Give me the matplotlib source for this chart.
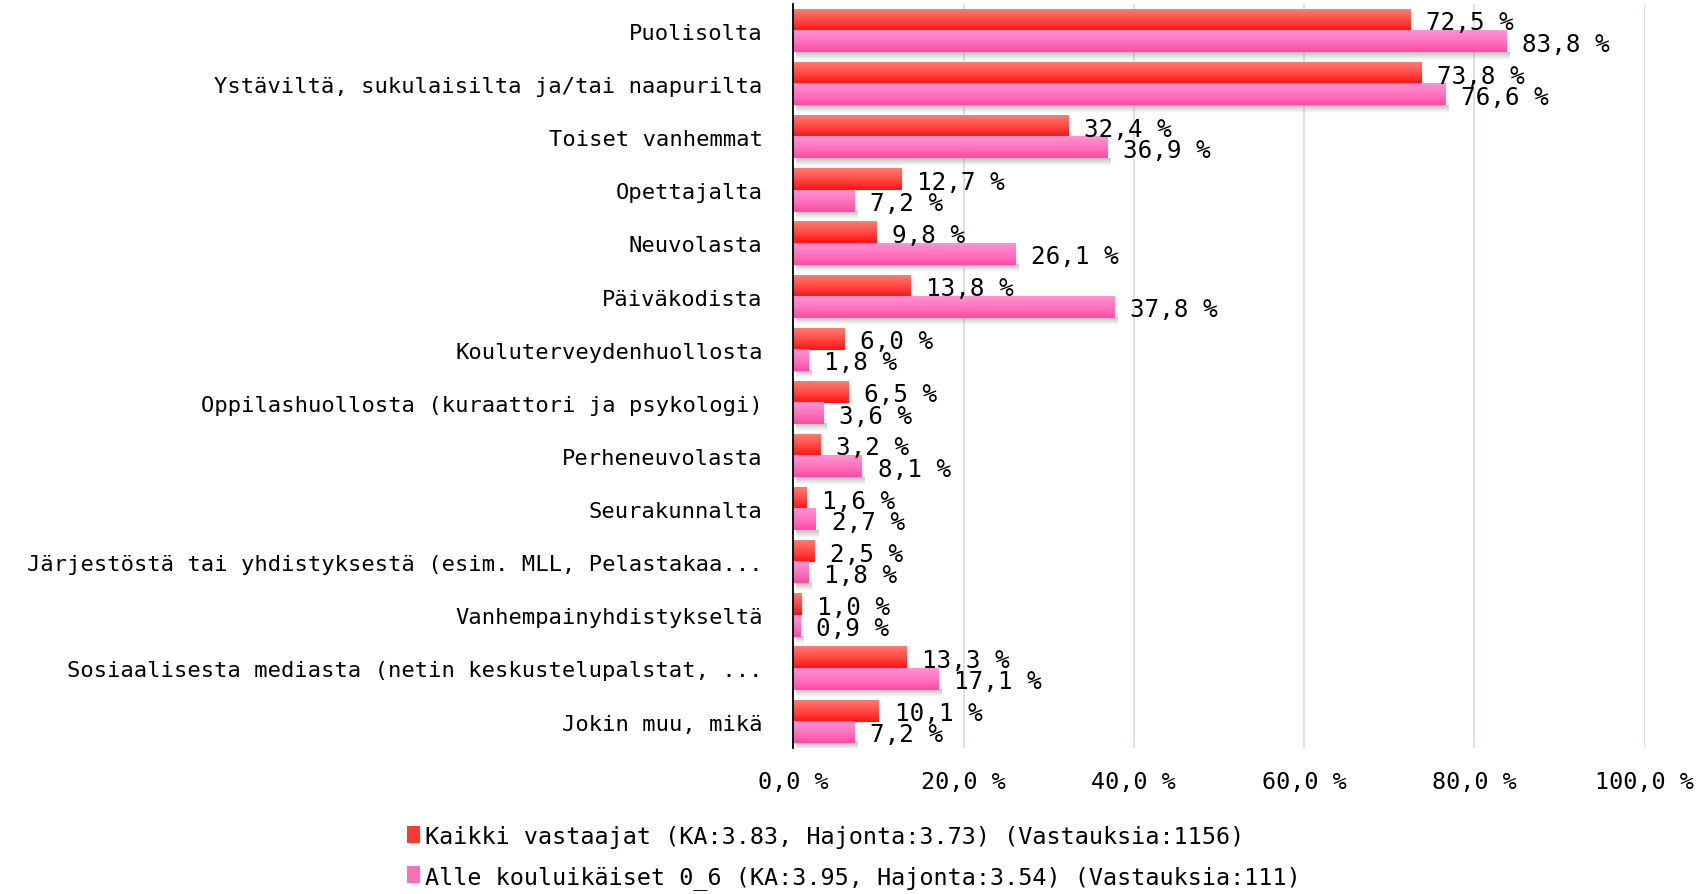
import numpy as np
import matplotlib
matplotlib.use("Agg")
import matplotlib.pyplot as plt
from matplotlib.colors import LinearSegmentedColormap
from matplotlib.patches import Patch

categories = [
    "Puolisolta",
    "Ystäviltä, sukulaisilta ja/tai naapurilta",
    "Toiset vanhemmat",
    "Opettajalta",
    "Neuvolasta",
    "Päiväkodista",
    "Kouluterveydenhuollosta",
    "Oppilashuollosta (kuraattori ja psykologi)",
    "Perheneuvolasta",
    "Seurakunnalta",
    "Järjestöstä tai yhdistyksestä (esim. MLL, Pelastakaa...",
    "Vanhempainyhdistykseltä",
    "Sosiaalisesta mediasta (netin keskustelupalstat, ...",
    "Jokin muu, mikä",
]
kaikki = [72.5, 73.8, 32.4, 12.7, 9.8, 13.8, 6.0, 6.5, 3.2, 1.6, 2.5, 1.0, 13.3, 10.1]
alle = [83.8, 76.6, 36.9, 7.2, 26.1, 37.8, 1.8, 3.6, 8.1, 2.7, 1.8, 0.9, 17.1, 7.2]
series_names = [
    "Kaikki vastaajat (KA:3.83, Hajonta:3.73) (Vastauksia:1156)",
    "Alle kouluikäiset 0_6 (KA:3.95, Hajonta:3.54) (Vastauksia:111)",
]
xticks = [0, 20, 40, 60, 80, 100]

# wide-tracked look of the original -> monospaced sans
plt.rcParams['font.family'] = ['DejaVu Sans Mono', 'DejaVu Sans']
FS = 16.8
FS_CAT = 15.9
FS_VAL = 17.5

red_cmap = LinearSegmentedColormap.from_list("r", ["#ff7a72", "#ff4a44", "#ff1212"])
pink_cmap = LinearSegmentedColormap.from_list("p", ["#ff92d2", "#ff74c0", "#ff4aa2"])
grad = np.linspace(0, 1, 64).reshape(-1, 1)

fig = plt.figure(figsize=(17.06, 8.95), dpi=100)
ax = fig.add_axes([0.465, 0.163, 0.499, 0.831])

y = np.arange(len(categories))
h = 0.4
b1 = ax.barh(y - h / 2, kaikki, height=h, color="none")
b2 = ax.barh(y + h / 2, alle, height=h, color="none")

def paint(bars, cmap, shadow=False):
    for p in bars:
        x0, y0 = p.get_x(), p.get_y()
        w, hh = p.get_width(), p.get_height()
        ax.imshow(grad, cmap=cmap, extent=(x0, x0 + w, y0, y0 + hh),
                  origin="lower", aspect="auto", zorder=3, interpolation="bilinear")
        if shadow:
            sh = np.zeros((32, 1, 4))
            sh[..., :3] = 0.45
            sh[:, 0, 3] = np.linspace(0.45, 0, 32)
            ax.imshow(sh, extent=(x0 + 0.3, x0 + w + 0.3, y0 + hh, y0 + hh + 0.14),
                      origin="lower", aspect="auto", zorder=2, interpolation="bilinear")

paint(b1, red_cmap)
paint(b2, pink_cmap, shadow=True)

def fmt(v):
    return ("%.1f %%" % v).replace(".", ",")

for bars, vals in ((b1, kaikki), (b2, alle)):
    for p, v in zip(bars, vals):
        ax.text(v + 1.8, p.get_y() + p.get_height() / 2 + 0.04, fmt(v),
                va="center", ha="left", fontsize=FS_VAL, zorder=5)

ax.set_xlim(0, 100)
ax.set_ylim(len(categories) - 0.5, -0.5)
ax.set_yticks(y)
ax.set_yticklabels(categories, fontsize=FS_CAT)
ax.set_xticks(xticks)
ax.set_xticklabels([fmt(t) for t in xticks], fontsize=FS)
ax.tick_params(axis="y", length=0, pad=22)
ax.tick_params(axis="x", length=0, pad=16)
ax.xaxis.grid(True, color="#d5dfea", linewidth=1.3, zorder=0)
ax.set_axisbelow(True)
for s in ("top", "right", "bottom"):
    ax.spines[s].set_visible(False)
ax.spines["left"].set_color("black")
ax.spines["left"].set_linewidth(1.3)
ax.spines["left"].set_zorder(6)

handles = [Patch(facecolor="#ff3a34"), Patch(facecolor="#ff6cb8")]
fig.legend(handles, series_names, loc="upper left", bbox_to_anchor=(0.233, 0.088),
           frameon=False, fontsize=FS, handlelength=0.55, handleheight=0.75,
           handletextpad=0.25, labelspacing=0.75, borderaxespad=0)

fig.savefig("out.png", dpi=100)
